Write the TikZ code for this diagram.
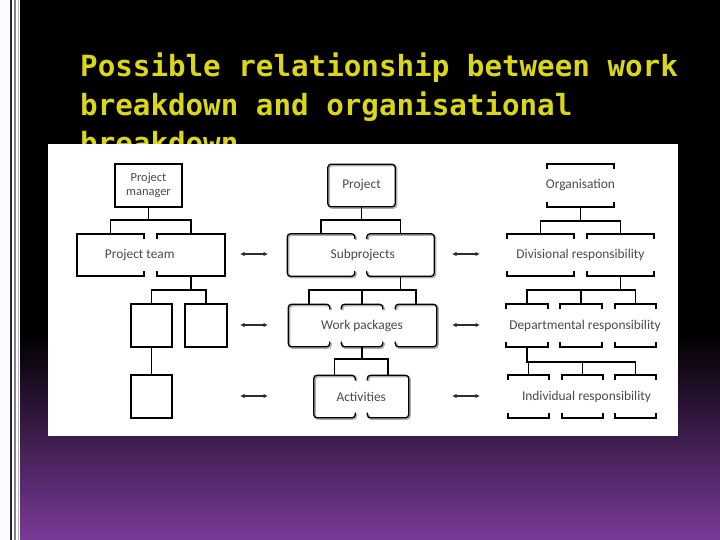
\documentclass[tikz,border=0pt]{standalone}
\usepackage{fontspec}
\setmainfont{Carlito}
\newfontfamily\titlefont{DejaVu Sans Mono}
\usetikzlibrary{arrows.meta,calc}
\definecolor{slidePurple}{RGB}{122,58,152}
\definecolor{stripeDark}{RGB}{45,28,58}
\definecolor{titleYellow}{RGB}{218,214,24}
\definecolor{labelGrey}{RGB}{72,72,86}
\definecolor{arrowGrey}{RGB}{45,45,45}

\tikzset{
  cellbox/.style={inner sep=0pt, minimum height=42pt},
  widebox/.style={cellbox, minimum width=67pt},
  smallbox/.style={cellbox, minimum width=41pt},
  sqline/.style={line width=1.8pt},
  rline/.style={line width=1.25pt, rounded corners=3pt,
    preaction={draw, gray!65, line width=2pt, transform canvas={xshift=1.1pt,yshift=-1.1pt}}},
  brline/.style={line width=1.8pt},
  branch/.style={line width=1.9pt},
  twoway/.style={arrowGrey, line width=1.1pt, {Latex[length=4.5pt,width=4.5pt]}-{Latex[length=4.5pt,width=4.5pt]}},
  boxtext/.style={text=labelGrey, font=\fontsize{13.4}{14}\selectfont, inner sep=0pt},
  titletext/.style={anchor=base west, inner sep=0pt, text=titleYellow,
    font=\titlefont\bfseries\fontsize{29.2}{30}\selectfont}
}

\begin{document}
\begin{tikzpicture}[x=1pt,y=-1pt]
\useasboundingbox (0,0) rectangle (720,540);

%
\fill[black] (19.5,0) rectangle (720,540);
\shade[top color=black, bottom color=slidePurple] (19.5,335) rectangle (720,540);
\fill[white!98!cyan] (0,0) rectangle (19.5,540);
\draw[stripeDark, line width=2.3pt] (11.2,0) -- (11.2,540);
\draw[gray, line width=2.2pt] (14.9,0) -- (14.9,540);
\draw[gray!60, line width=1pt] (18.9,0) -- (18.9,540);

%
\node[titletext] (t1) at (80,77) {Possible relationship between work};
\node[titletext] (t2) at (80,116) {breakdown and organisational};
\node[titletext] (t3) at (80,154) {breakdown};

%
\fill[white] (48,144) rectangle (678,436);

%
\node[widebox, boxtext, align=center, font=\fontsize{12.4}{13.5}\selectfont] (pm) at (148.5,185.5) {Project\\manager};
\node[widebox] (tm1) at (110.5,255) {};
\node[widebox] (tm2) at (191,255) {};
\node[smallbox] (sq1) at (151.5,325.5) {};
\node[smallbox] (sq2) at (206,325.5) {};
\node[smallbox] (sq3) at (151.5,396.5) {};

%
\node[widebox] (pj) at (361.5,185.5) {};
\node[widebox] (sp1) at (321,255) {};
\node[widebox] (sp2) at (400.5,255) {};
\node[smallbox] (wp1) at (309,325.5) {};
\node[smallbox] (wp2) at (362,325.5) {};
\node[smallbox] (wp3) at (416,325.5) {};
\node[smallbox] (ac1) at (334.5,396.5) {};
\node[smallbox] (ac2) at (388,396.5) {};

%
\node[widebox] (org) at (580.5,185.5) {};
\node[widebox] (dv1) at (540.5,255) {};
\node[widebox] (dv2) at (620.5,255) {};
\node[smallbox] (dp1) at (527,325.5) {};
\node[smallbox] (dp2) at (581,325.5) {};
\node[smallbox] (dp3) at (635.5,325.5) {};
\node[smallbox] (in1) at (528.5,396.5) {};
\node[smallbox] (in2) at (582.5,396.5) {};
\node[smallbox] (in3) at (635.5,396.5) {};

%
\foreach \n in {pm,sq1,sq2,sq3}
  \draw[sqline] (\n.north west) rectangle (\n.south east);
\draw[rline] (pj.north west) rectangle (pj.south east);

%
\foreach \n/\s in {tm1/sqline,sp1/rline,wp1/rline,ac1/rline}
  \draw[\s] ([yshift=-5pt]\n.north east) -- (\n.north east) -- (\n.north west)
    -- (\n.south west) -- (\n.south east) -- ([yshift=5pt]\n.south east);
\foreach \n/\s in {tm2/sqline,sp2/rline,wp3/rline,ac2/rline}
  \draw[\s] ([yshift=-5pt]\n.north west) -- (\n.north west) -- (\n.north east)
    -- (\n.south east) -- (\n.south west) -- ([yshift=5pt]\n.south west);

%
\foreach \n/\s in {wp2/rline,org/brline,dv1/brline,dv2/brline,dp1/brline,dp2/brline,dp3/brline,in1/brline,in2/brline,in3/brline}{
  \draw[\s] ([yshift=-5pt]\n.north west) -- (\n.north west) -- (\n.north east) -- ([yshift=-5pt]\n.north east);
  \draw[\s] ([yshift=5pt]\n.south west) -- (\n.south west) -- (\n.south east) -- ([yshift=5pt]\n.south east);
}

%
\foreach \a/\b/\d in {pm/tm1/13.5pt,pm/tm2/13.5pt,tm2/sq1/14pt,tm2/sq2/14pt,
    pj/sp1/13.5pt,pj/sp2/13.5pt,sp2/wp1/14pt,sp2/wp2/14pt,sp2/wp3/14pt,wp2/ac1/12.5pt,wp2/ac2/12.5pt,
    org/dv1/14pt,org/dv2/14pt,dv2/dp1/14pt,dv2/dp2/14pt,dv2/dp3/14pt,dp1/in1/15.5pt,dp1/in2/15.5pt,dp1/in3/15.5pt}
  \draw[branch] (\a.south) -- ++(0,-\d) -| (\b.north);
\draw[branch] (sq1.south) -- (sq3.north);

%
\node[boxtext] (pjtext) at (pj) {Project};
\node[boxtext] (orgtext) at (org) {Organisation};
\node[boxtext, xshift=-11pt] (tmtext) at ($(tm1)!0.5!(tm2)$) {Project team};
\node[boxtext, xshift=2pt] (sptext) at ($(sp1)!0.5!(sp2)$) {Subprojects};
\node[boxtext] (dvtext) at ($(dv1)!0.5!(dv2)$) {Divisional responsibility};
\node[boxtext] (wptext) at (wp2) {Work packages};
\node[boxtext] (dptext) at ([xshift=4pt]dp2.center) {Departmental responsibility};
\node[boxtext] (actext) at ($(ac1)!0.5!(ac2)$) {Activities};
\node[boxtext] (intext) at ([xshift=4pt]in2.center) {Individual responsibility};

%
\foreach \r/\y in {2/254,3/325,4/396}{
  \coordinate (la\r) at (240,\y);
  \coordinate (lb\r) at (268,\y);
  \coordinate (ra\r) at (452,\y);
  \coordinate (rb\r) at (480,\y);
  \draw[twoway] (la\r) -- (lb\r);
  \draw[twoway] (ra\r) -- (rb\r);
}

\end{tikzpicture}
\end{document}
